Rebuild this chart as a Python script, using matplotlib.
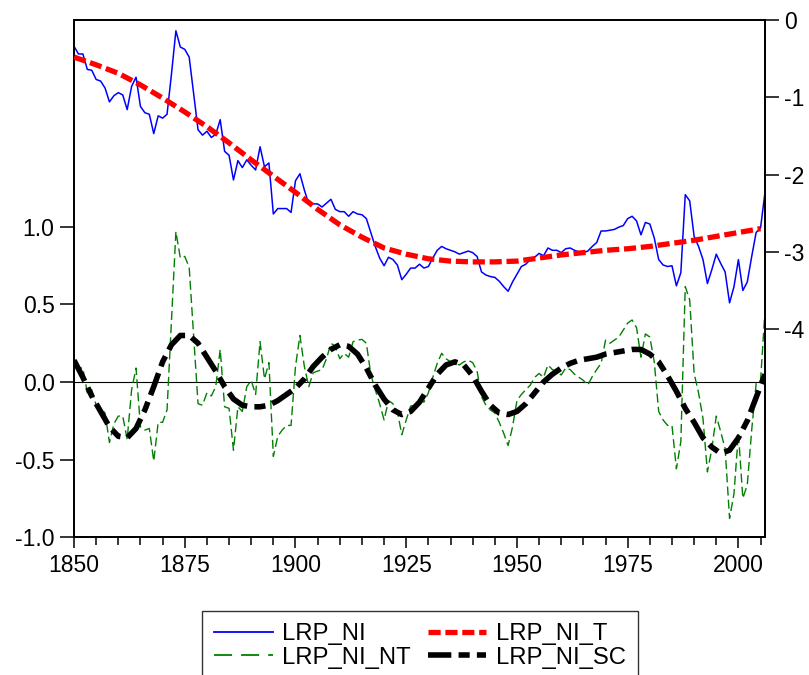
import matplotlib
matplotlib.use("Agg")
import matplotlib.pyplot as plt
from matplotlib.lines import Line2D
from matplotlib.ticker import MultipleLocator, FixedLocator

plt.rcParams["font.family"] = ["Liberation Sans", "DejaVu Sans"]

# LRP_NI (right axis), annual
ni_years = list(range(1850, 2007))
ni_vals = [
    -0.34, -0.44, -0.44, -0.64, -0.65, -0.77, -0.79, -0.88, -1.06, -0.98,
    -0.94, -0.97, -1.16, -0.86, -0.74, -1.12, -1.20, -1.22, -1.47, -1.24,
    -1.27, -1.22, -0.70, -0.14, -0.35, -0.38, -0.48, -0.95, -1.42, -1.49,
    -1.44, -1.52, -1.48, -1.29, -1.70, -1.75, -2.07, -1.82, -1.91, -1.81,
    -1.88, -1.94, -1.64, -1.90, -1.85, -2.51, -2.44, -2.44, -2.44, -2.49,
    -2.08, -1.99, -2.20, -2.38, -2.38, -2.38, -2.42, -2.37, -2.32, -2.45,
    -2.48, -2.48, -2.54, -2.48, -2.51, -2.52, -2.57, -2.75, -2.93, -3.08,
    -3.18, -3.07, -3.10, -3.17, -3.36, -3.29, -3.21, -3.21, -3.16, -3.21,
    -3.19, -3.08, -2.98, -2.93, -2.96, -2.98, -3.00, -3.03, -3.01, -2.99,
    -3.01, -3.06, -3.26, -3.30, -3.32, -3.33, -3.38, -3.45, -3.51, -3.39,
    -3.29, -3.19, -3.16, -3.10, -3.07, -3.02, -3.05, -2.95, -2.98, -2.98,
    -3.01, -2.96, -2.95, -2.98, -3.00, -3.01, -2.99, -2.93, -2.88, -2.73,
    -2.73, -2.72, -2.71, -2.68, -2.66, -2.57, -2.54, -2.60, -2.78, -2.62,
    -2.64, -2.82, -3.10, -3.17, -3.19, -3.18, -3.44, -3.27, -2.26, -2.34,
    -2.80, -2.93, -3.10, -3.41, -3.23, -3.03, -3.15, -3.26, -3.66, -3.45,
    -3.10, -3.50, -3.39, -3.06, -2.75, -2.69, -2.23,
]

# LRP_NI_T trend (right axis)
t_years = list(range(1850, 2006, 5))
t_vals = [
    -0.48, -0.58, -0.69, -0.84, -1.01, -1.19, -1.38, -1.59, -1.81, -2.02,
    -2.23, -2.45, -2.65, -2.81, -2.95, -3.03, -3.09, -3.12, -3.13, -3.13,
    -3.12, -3.08, -3.04, -3.01, -2.98, -2.96, -2.93, -2.89, -2.85, -2.80,
    -2.75, -2.70,
]

# LRP_NI_NT (left axis), annual
nt_years = list(range(1850, 2007))
nt_vals = [
    0.11, 0.09, 0.09, -0.07, -0.05, -0.15, -0.17, -0.20, -0.39, -0.27,
    -0.22, -0.22, -0.37, -0.05, 0.09, -0.29, -0.31, -0.30, -0.51, -0.26,
    -0.26, -0.18, 0.40, 0.97, 0.80, 0.81, 0.74, 0.30, -0.14, -0.15,
    -0.07, -0.09, -0.03, 0.21, -0.16, -0.17, -0.44, -0.16, -0.19, -0.03,
    0.01, -0.08, 0.26, 0.02, 0.125, -0.48, -0.35, -0.31, -0.28, -0.28,
    0.10, 0.30, 0.10, -0.03, 0.06, 0.07, 0.08, 0.15, 0.25, 0.23,
    0.15, 0.185, 0.16, 0.26, 0.27, 0.275, 0.25, 0.05, -0.05, -0.14,
    -0.245, -0.12, -0.14, -0.19, -0.34, -0.245, -0.155, -0.15, -0.12, -0.13,
    -0.07, 0.03, 0.12, 0.185, 0.15, 0.13, 0.12, 0.11, 0.13, 0.14,
    0.125, 0.07, -0.095, -0.15, -0.18, -0.20, -0.26, -0.33, -0.41, -0.29,
    -0.12, -0.08, -0.05, -0.02, 0.03, 0.055, 0.03, 0.11, 0.08, 0.07,
    0.045, 0.09, 0.08, 0.05, 0.03, 0.01, -0.02, 0.035, 0.08, 0.12,
    0.27, 0.25, 0.27, 0.29, 0.335, 0.38, 0.40, 0.35, 0.16, 0.31,
    0.29, 0.13, -0.19, -0.245, -0.28, -0.28, -0.56, -0.385, 0.615, 0.53,
    0.055, -0.07, -0.235, -0.58, -0.43, -0.22, -0.32, -0.43, -0.88, -0.72,
    -0.33, -0.75, -0.665, -0.31, -0.01, 0.01, 0.46,
]

# LRP_NI_SC smooth cycle (left axis)
sc_years = list(range(1850, 2007, 2))
sc_vals = [
    0.14, 0.03, -0.09, -0.19, -0.29, -0.35, -0.36, -0.30, -0.18, -0.03,
    0.13, 0.24, 0.30, 0.30, 0.25, 0.16, 0.07, -0.03, -0.11, -0.15,
    -0.16, -0.16, -0.15, -0.12, -0.08, -0.04, 0.02, 0.10, 0.16, 0.21,
    0.24, 0.23, 0.18, 0.09, -0.02, -0.11, -0.18, -0.21, -0.19, -0.13,
    -0.04, 0.05, 0.11, 0.13, 0.11, 0.04, -0.06, -0.15, -0.20, -0.21,
    -0.19, -0.14, -0.07, 0.00, 0.05, 0.09, 0.12, 0.14, 0.15, 0.16,
    0.18, 0.19, 0.20, 0.21, 0.21, 0.18, 0.13, 0.04, -0.06, -0.17,
    -0.26, -0.36, -0.42, -0.46, -0.44, -0.36, -0.25, -0.10, 0.05,
]

left_ticks = [-1.0, -0.5, 0.0, 0.5, 1.0]
right_ticks = [0, -1, -2, -3, -4]

fig = plt.figure(figsize=(8.09, 6.75), dpi=100)
ax = fig.add_axes([0.0915, 0.2044, 0.8541, 0.766])
ax2 = ax.twinx()

sc_dash = (4.2, 1.3, 2.0, 1.3)

ax.axhline(0, color="black", lw=0.8, zorder=1)
ax.plot(nt_years, nt_vals, color="#008000", lw=1.0, dashes=(6.5, 3), zorder=2)
ax.plot(sc_years, sc_vals, color="black", lw=4.0, dashes=sc_dash,
        dash_capstyle="butt", zorder=3)
ax2.plot(ni_years, ni_vals, color="#0000ff", lw=1.1, zorder=2)
ax2.plot(t_years, t_vals, color="#ff0000", lw=3.8, dashes=(2.3, 0.9),
         dash_capstyle="butt", zorder=3)

ax.set_xlim(1850, 2006)
ax.set_ylim(-1.0, 2.335)
ax2.set_ylim(-6.69, 0)
ax.xaxis.set_major_locator(FixedLocator([1850, 1875, 1900, 1925, 1950, 1975, 2000]))
ax.xaxis.set_minor_locator(MultipleLocator(5))
ax.yaxis.set_major_locator(FixedLocator(left_ticks))
ax.set_yticklabels([f"{v:.1f}" for v in left_ticks])
ax2.yaxis.set_major_locator(FixedLocator(right_ticks))
ax2.set_yticklabels([str(v) for v in right_ticks])

ax.tick_params(axis="x", which="major", direction="out", length=8, width=1.1,
               labelsize=16.5, pad=4)
ax.tick_params(axis="x", which="minor", direction="out", length=6, width=1.1)
ax.tick_params(axis="y", direction="out", length=10, width=1.1, labelsize=16.5, pad=4)
ax2.tick_params(axis="y", direction="out", length=10, width=1.1, labelsize=16.5, pad=4)
for a in (ax, ax2):
    for s in a.spines.values():
        s.set_linewidth(1.3)

handles = [
    Line2D([], [], color="#0000ff", lw=1.3),
    Line2D([], [], color="#008000", lw=1.3, dashes=(10, 5)),
    Line2D([], [], color="#ff0000", lw=3.8, dashes=(2.3, 0.9), dash_capstyle="butt"),
    Line2D([], [], color="black", lw=4.0, dashes=sc_dash, dash_capstyle="butt"),
]
labels = ["LRP_NI", "LRP_NI_NT", "LRP_NI_T", "LRP_NI_SC"]
leg = fig.legend(handles, labels, ncol=2, loc="upper center",
                 bbox_to_anchor=(0.519, 1 - 611 / 675), fontsize=17.2, frameon=True,
                 fancybox=False, edgecolor="black", handlelength=2.45,
                 handletextpad=0.4, columnspacing=0.7, labelspacing=0.08,
                 borderpad=0.5, borderaxespad=0)
leg.get_frame().set_linewidth(1.0)

fig.savefig("out.png", dpi=100)
